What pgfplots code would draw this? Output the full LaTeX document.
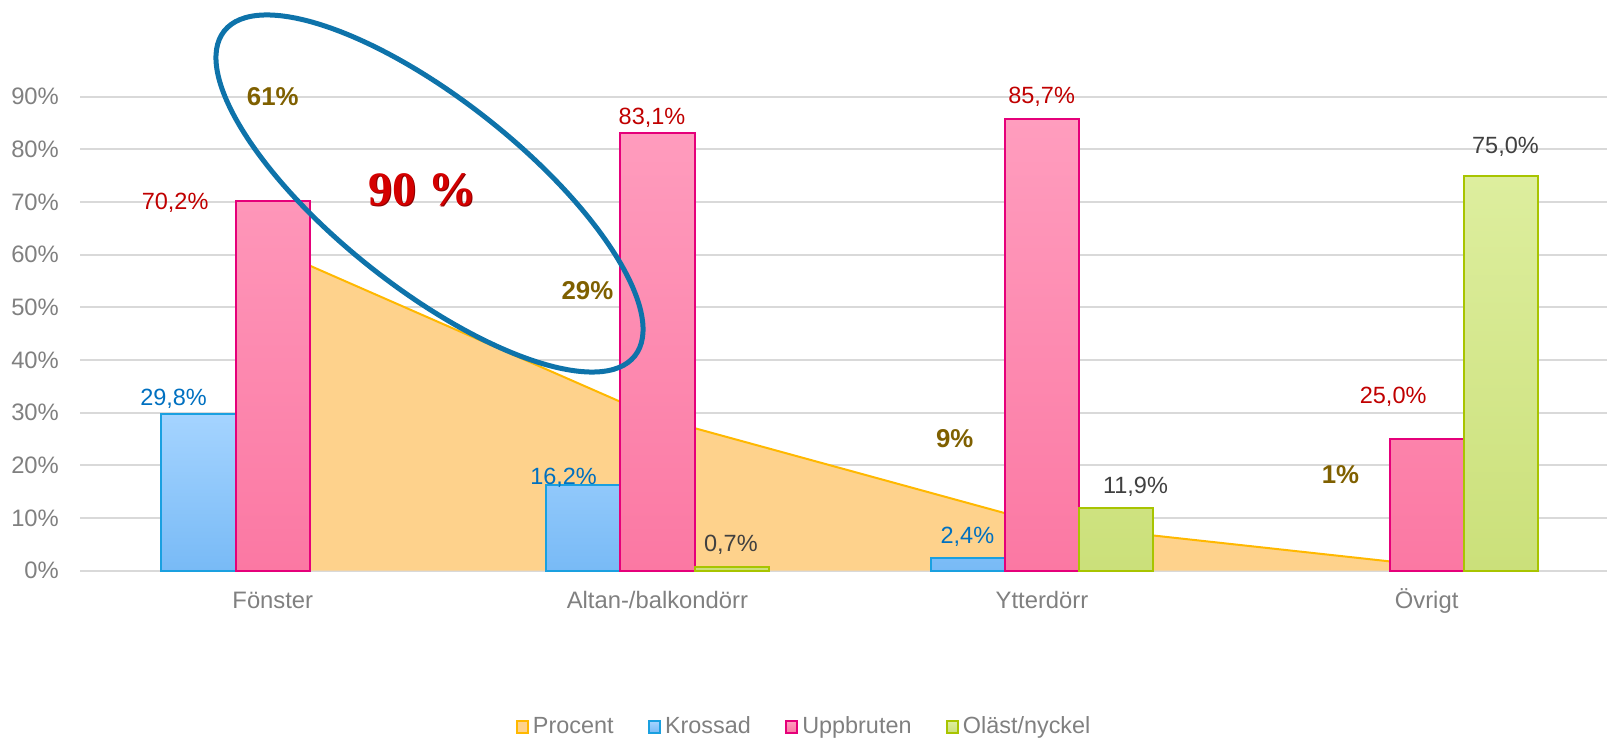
\documentclass[border=0pt]{standalone}
\usepackage{fontspec}
\setmainfont{Liberation Sans}
\newfontfamily\timesf{Liberation Serif}
\usepackage{pgfplots}
\pgfplotsset{compat=1.18}
\definecolor{gridgray}{HTML}{D9D9D9}
\definecolor{tickgray}{HTML}{808080}
\definecolor{kTop}{HTML}{A5D4FF}
\definecolor{kBot}{HTML}{78BAF6}
\definecolor{kLine}{HTML}{1AA0E0}
\definecolor{uTop}{HTML}{FF9DBE}
\definecolor{uBot}{HTML}{FB78A3}
\definecolor{uLine}{HTML}{E5007A}
\definecolor{oTop}{HTML}{DDEE9E}
\definecolor{oBot}{HTML}{CBE07A}
\definecolor{oLine}{HTML}{A8C400}
\definecolor{aFill}{HTML}{FED28C}
\definecolor{aLine}{HTML}{FFB800}
\definecolor{kText}{HTML}{0070C0}
\definecolor{uText}{HTML}{C00000}
\definecolor{oText}{HTML}{404040}
\definecolor{pText}{HTML}{7F6000}
\definecolor{bigRed}{HTML}{D40000}
\definecolor{bigShadow}{HTML}{8A0000}
\definecolor{ellBlue}{RGB}{14,115,170}
\tikzset{
  lab/.style={inner sep=0pt, text depth=0pt, anchor=center, font=\fontsize{11.75}{14}\selectfont},
  plab/.style={inner sep=0pt, text depth=0pt, anchor=center, font=\fontsize{12.9}{15}\selectfont\bfseries, text=pText},
}
\begin{document}
\begin{tikzpicture}
\begin{axis}[
  at={(0,0)}, anchor=south west,
  scale only axis, width=763.25pt, height=237pt,
  xmin=-0.5, xmax=3.469, ymin=0, ymax=90,
  ytick={0,10,20,30,40,50,60,70,80,90},
  yticklabels={0\%,10\%,20\%,30\%,40\%,50\%,60\%,70\%,80\%,90\%},
  xtick={0,1,2,3},
  xticklabels={Fönster,Altan-/balkondörr,Ytterdörr,Övrigt},
  ymajorgrids, grid style={line width=1pt, color=gridgray},
  axis line style={draw=none}, major tick length=0pt,
  tick label style={font=\fontsize{11.9}{14}\selectfont, text=tickgray},
  yticklabel style={anchor=east, inner sep=0pt, xshift=-10.6pt},
  xticklabel style={anchor=north, inner sep=0pt, yshift=-10.4pt, text height=8.5pt, text depth=0pt},
  /pgf/number format/assume math mode=true,
  clip=false,
  legend columns=-1,
  legend cell align=left,
  legend style={at={(0.4733,-0.3297)}, anchor=center, draw=none, fill=none,
    font=\fontsize{11.7}{14}\selectfont, text=tickgray, inner sep=0pt,
    nodes={inner sep=0pt},
    /tikz/every odd column/.append style={column sep=2pt},
    /tikz/every even column/.append style={column sep=17pt}},
  legend image code/.code={\draw[#1, line width=1pt] (0pt,-2.85pt) rectangle (5.7pt,2.85pt);},
]
\addlegendimage{draw=aLine, fill=aFill}
\addlegendentry{Procent}
\addplot[draw=none, fill=aFill, forget plot] coordinates {(0,61) (1,29) (2,9) (3,1)} \closedcycle;
\addplot[draw=aLine, line width=1pt, forget plot] coordinates {(0,61) (1,29) (2,9) (3,1)};
\addplot[ybar, bar width=0.193, bar shift=-0.193, draw=kLine, line width=1pt, top color=kTop, bottom color=kBot]
  coordinates {(0,29.8) (1,16.2) (2,2.4)};
\addlegendentry{Krossad}
\addplot[ybar, bar width=0.193, bar shift=0, draw=uLine, line width=1pt, top color=uTop, bottom color=uBot]
  coordinates {(0,70.2) (1,83.1) (2,85.7) (3,25.0)};
\addlegendentry{Uppbruten}
\addplot[ybar, bar width=0.193, bar shift=0.193, draw=oLine, line width=1pt, top color=oTop, bottom color=oBot]
  coordinates {(1,0.7) (2,11.9) (3,75.0)};
\addlegendentry{Oläst/nyckel}
% data labels
\node[lab, text=uText] at (axis cs:-0.254,70.06) {70,2\%};
\node[lab, text=kText] at (axis cs:-0.258,32.98) {29,8\%};
\node[lab, text=kText] at (axis cs:0.756,17.85) {16,2\%};
\node[lab, text=uText] at (axis cs:0.986,86.2) {83,1\%};
\node[lab, text=oText] at (axis cs:1.191,5.20) {0,7\%};
\node[lab, text=kText] at (axis cs:1.806,6.78) {2,4\%};
\node[lab, text=uText] at (axis cs:1.999,90.3) {85,7\%};
\node[lab, text=oText] at (axis cs:2.243,16.27) {11,9\%};
\node[lab, text=uText] at (axis cs:2.913,33.36) {25,0\%};
\node[lab, text=oText] at (axis cs:3.205,80.8) {75,0\%};
% area labels
\node[plab] at (axis cs:0,90.0) {61\%};
\node[plab] at (axis cs:0.818,53.3) {29\%};
\node[plab] at (axis cs:1.773,25.14) {9\%};
\node[plab] at (axis cs:2.776,18.17) {1\%};
% big text
\node[inner sep=0pt, text depth=0pt, anchor=center, font=\fontsize{24}{28}\selectfont\timesf\bfseries, text=bigShadow, xshift=0.45pt, yshift=-0.45pt] at (axis cs:0.389,72.3) {90 \%};
\node[inner sep=0pt, text depth=0pt, anchor=center, font=\fontsize{24}{28}\selectfont\timesf\bfseries, text=bigRed] at (axis cs:0.389,72.3) {90 \%};
\end{axis}
\draw[ellBlue, line width=2.5pt, rotate around={-38.35:(174.5pt,188.6pt)}] (174.5pt,188.6pt) ellipse [x radius=130.9pt, y radius=47.2pt];
\pgfresetboundingbox
\path[use as bounding box] (-40.25pt,-84.15pt) rectangle (763.25pt,285.35pt);
\end{tikzpicture}
\end{document}
